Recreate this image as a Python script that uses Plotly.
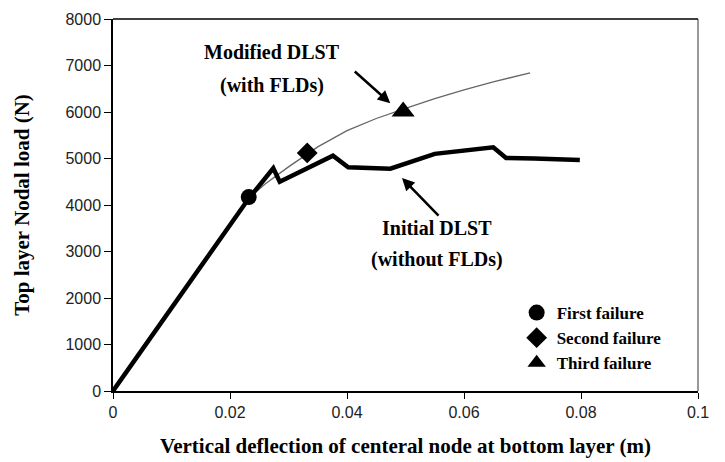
import plotly.graph_objects as go

# Initial DLST (without FLDs): deflection (m) vs nodal load (N)
initial_x = [0.0, 0.0232, 0.0274, 0.0285, 0.0376, 0.0402, 0.0474, 0.055, 0.065, 0.0672, 0.072, 0.0798]
initial_y = [0, 4140, 4790, 4500, 5060, 4810, 4780, 5100, 5240, 5010, 5000, 4970]

# Modified DLST (with FLDs)
modified_x = [0.0232, 0.026, 0.030, 0.035, 0.040, 0.045, 0.050, 0.055, 0.060, 0.065, 0.0713]
modified_y = [4150, 4450, 4820, 5250, 5600, 5860, 6080, 6290, 6475, 6650, 6840]

# Failure points
failure_names = ["First failure", "Second failure", "Third failure"]
failure_x = [0.0232, 0.0332, 0.0496]
failure_y = [4170, 5120, 6010]
failure_symbols = ["circle", "diamond", "triangle-up"]
failure_sizes = [16, 16, 20]

x_ticks = [0, 0.02, 0.04, 0.06, 0.08, 0.1]
x_tick_labels = ["0", "0.02", "0.04", "0.06", "0.08", "0.1"]
y_ticks = [0, 1000, 2000, 3000, 4000, 5000, 6000, 7000, 8000]

serif = "Liberation Serif"
tick_font = dict(family="Liberation Sans Narrow, Liberation Sans", size=16, color="#222222")
label_font = dict(family=serif, size=20, color="black")

fig = go.Figure()

fig.add_trace(go.Scatter(
    x=modified_x, y=modified_y, mode="lines",
    line=dict(color="#666666", width=1.3),
    showlegend=False, hoverinfo="skip",
))
fig.add_trace(go.Scatter(
    x=initial_x, y=initial_y, mode="lines",
    line=dict(color="black", width=4.5),
    showlegend=False, hoverinfo="skip",
))

for name, fx, fy, sym, sz in zip(failure_names, failure_x, failure_y, failure_symbols, failure_sizes):
    fig.add_trace(go.Scatter(
        x=[fx], y=[fy], mode="markers", name=name,
        marker=dict(symbol=sym, size=sz, color="black"),
    ))

# Curve labels with arrows
fig.add_annotation(
    x=0.0474, y=6190, xref="x", yref="y",
    ax=-37, ay=-33, showarrow=True, arrowhead=2, arrowsize=1.0,
    arrowwidth=2.5, arrowcolor="black", text="",
)
fig.add_annotation(x=0.0272, y=7290, xref="x", yref="y", showarrow=False,
                   text="<b>Modified DLST</b>", font=label_font)
fig.add_annotation(x=0.0272, y=6580, xref="x", yref="y", showarrow=False,
                   text="<b>(with FLDs)</b>", font=label_font)
fig.add_annotation(
    x=0.0494, y=4580, xref="x", yref="y",
    ax=38, ay=39, showarrow=True, arrowhead=2, arrowsize=1.0,
    arrowwidth=2.5, arrowcolor="black", text="",
)
fig.add_annotation(x=0.0554, y=3505, xref="x", yref="y", showarrow=False,
                   text="<b>Initial DLST</b>", font=label_font)
fig.add_annotation(x=0.0554, y=2835, xref="x", yref="y", showarrow=False,
                   text="<b>(without FLDs)</b>", font=label_font)

# Plot frame: dark top edge, grey right edge
fig.add_shape(type="line", xref="paper", yref="paper", x0=1, x1=1, y0=0, y1=1,
              line=dict(color="#777777", width=1.5))
fig.add_shape(type="line", xref="paper", yref="paper", x0=0, x1=1, y0=1, y1=1,
              line=dict(color="black", width=1.5))

fig.update_layout(
    width=725, height=462,
    margin=dict(l=113, r=27, t=19, b=71),
    paper_bgcolor="white", plot_bgcolor="white",
    showlegend=True,
    legend=dict(
        x=0.69, y=0.258, xanchor="left", yanchor="top",
        bgcolor="rgba(0,0,0,0)", borderwidth=0,
        font=dict(family=serif, size=17, color="black", weight="bold"),
        itemwidth=30, tracegroupgap=0,
    ),
    xaxis=dict(
        range=[0, 0.1], tickvals=x_ticks, ticktext=x_tick_labels,
        showgrid=False, zeroline=False, automargin=False,
        showline=True, linecolor="black", linewidth=1.5,
        ticks="outside", ticklen=6, tickcolor="black",
        tickfont=tick_font,
        title=dict(
            text="<b>Vertical deflection of centeral node at bottom layer (m)</b>",
            font=dict(family=serif, size=21, color="black"), standoff=18,
        ),
    ),
    yaxis=dict(
        range=[0, 8000], tickvals=y_ticks,
        showgrid=False, zeroline=False, automargin=False,
        showline=True, linecolor="black", linewidth=1.5,
        ticks="outside", ticklen=7, tickcolor="black",
        tickfont=tick_font,
        title=dict(
            text="<b>Top layer Nodal load (N)</b>",
            font=dict(family=serif, size=21, color="black"), standoff=30,
        ),
    ),
)

fig.write_html("out.html")
